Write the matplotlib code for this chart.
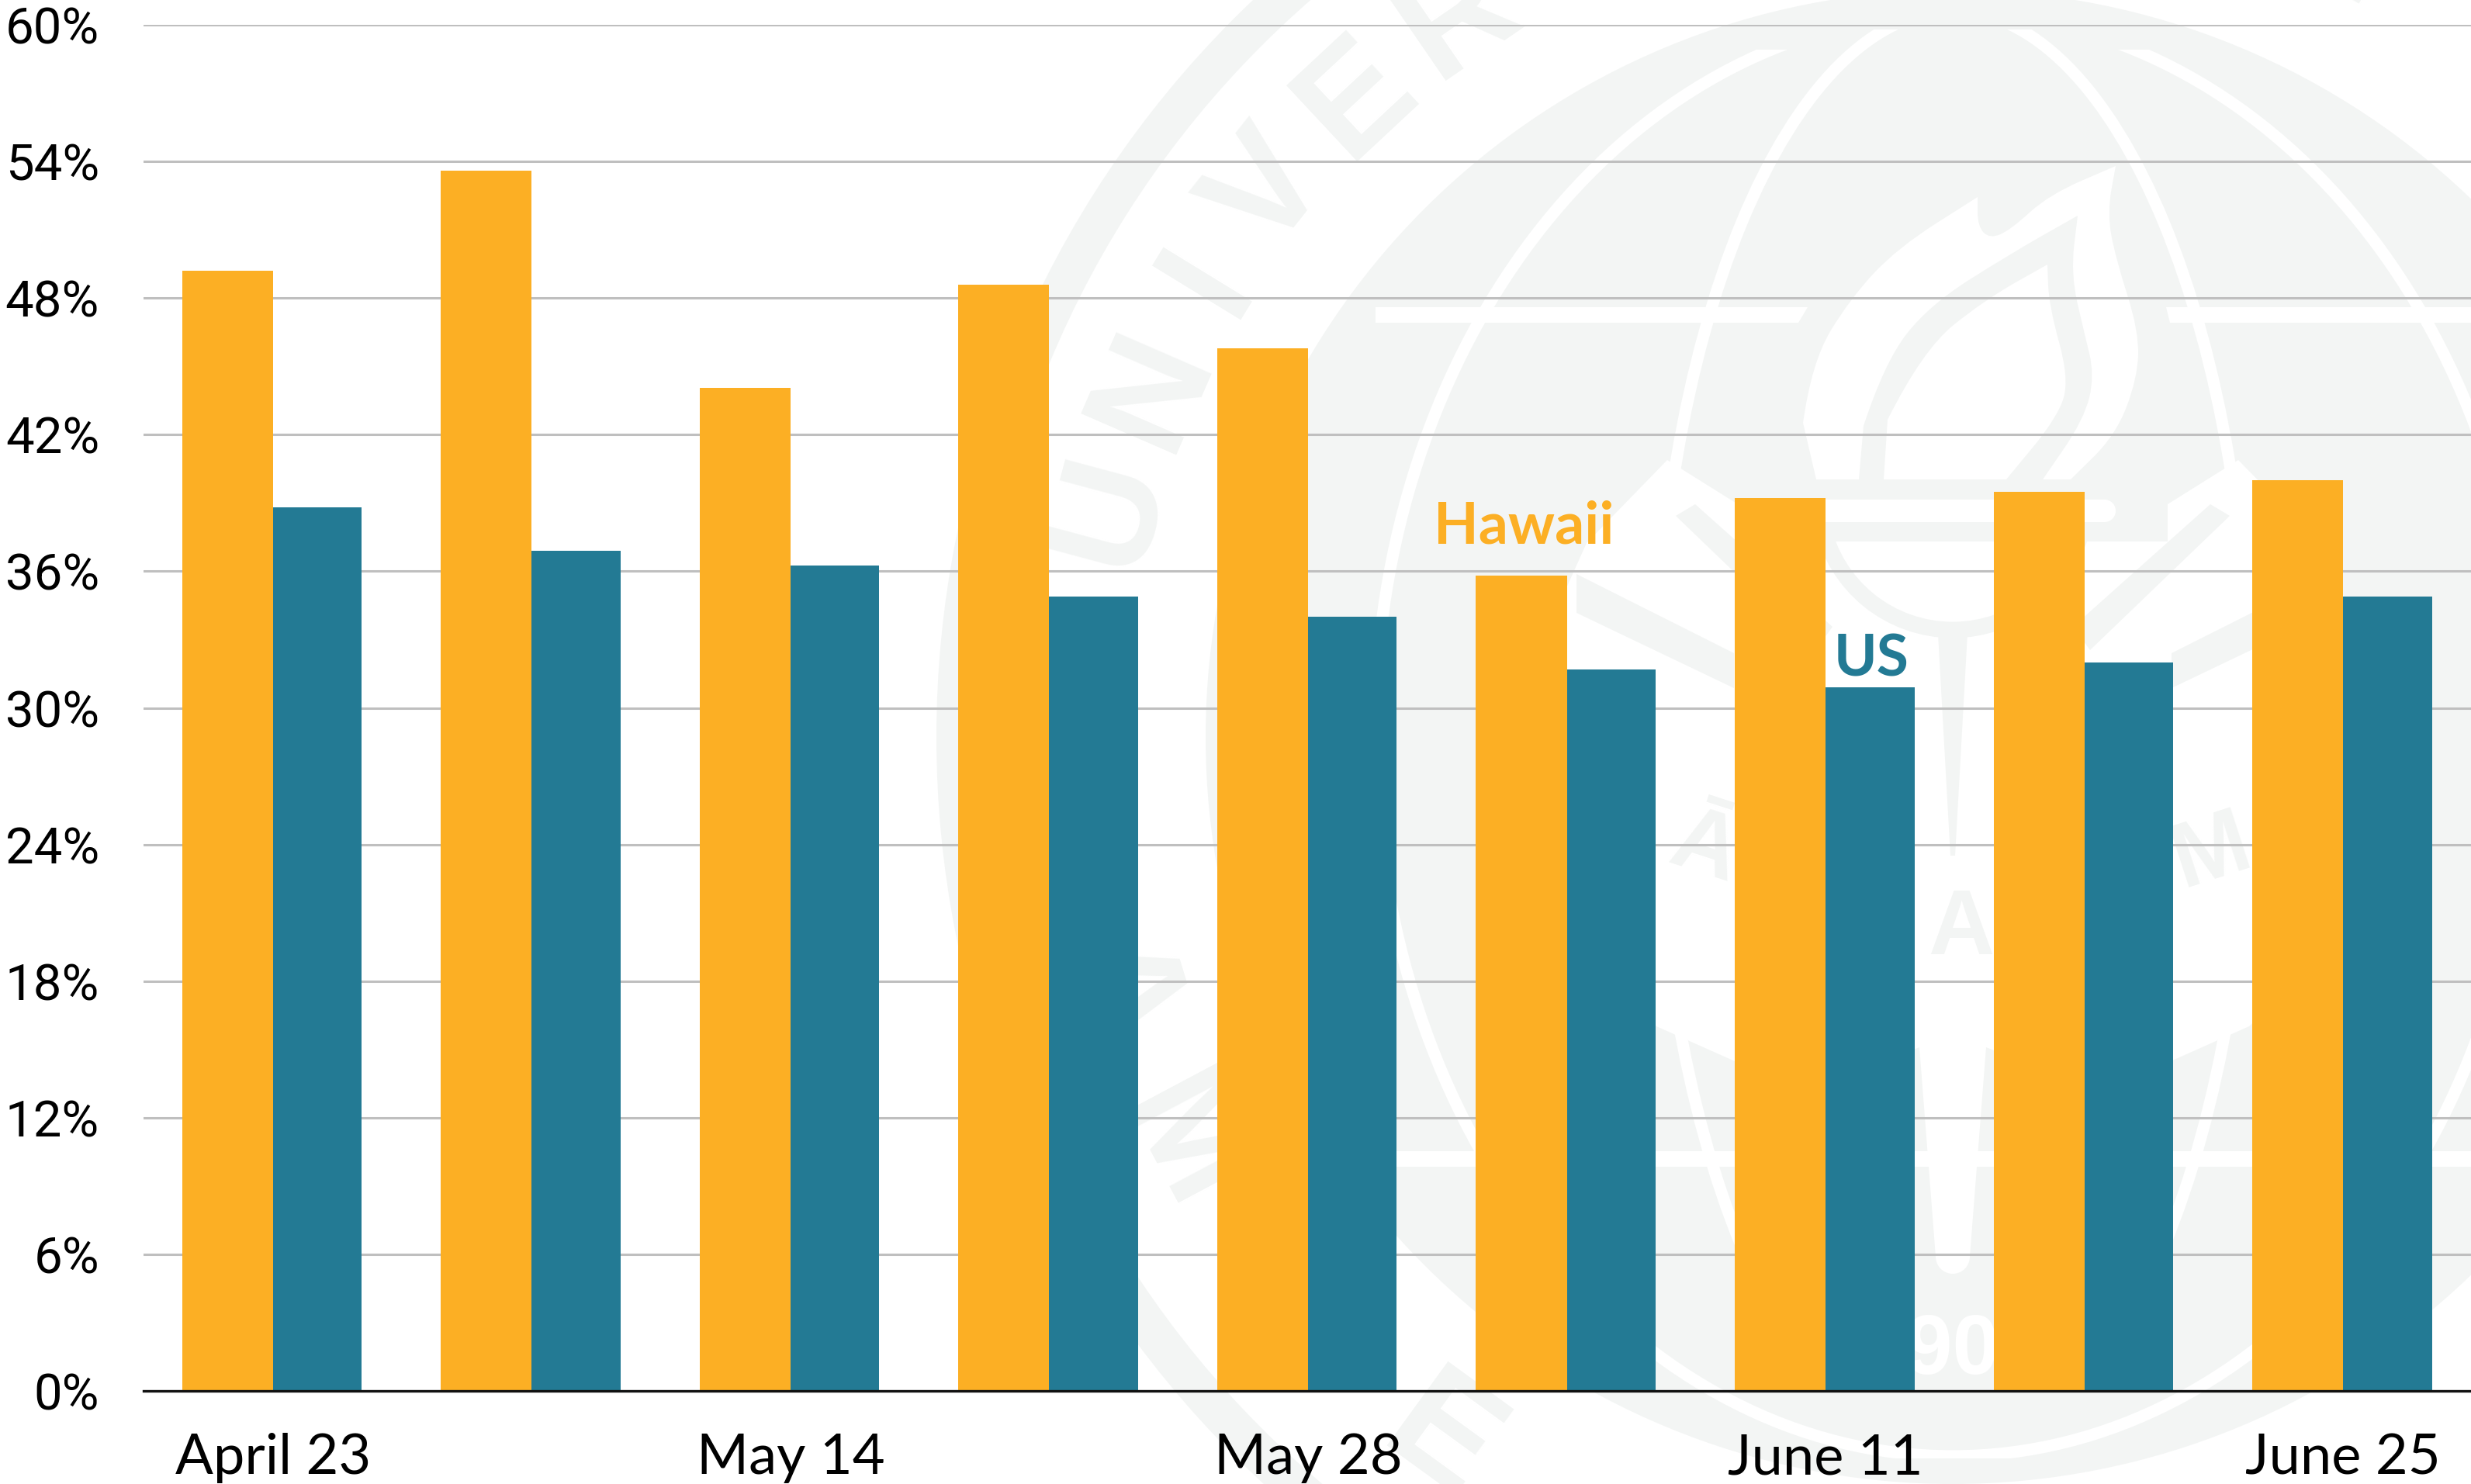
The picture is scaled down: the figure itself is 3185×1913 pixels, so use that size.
"""Hawaii vs US share chart, bars over a faint seal watermark."""
import numpy as np
import matplotlib
matplotlib.use('Agg')
import matplotlib.pyplot as plt
from matplotlib.patches import Circle, Wedge, Ellipse, PathPatch, Rectangle, Polygon, Arc
from matplotlib.path import Path

W, H = 3185, 1913

hawaii = [49.2, 53.6, 44.05, 48.6, 45.8, 35.8, 39.2, 39.5, 40.0]
us = [38.8, 36.9, 36.25, 34.9, 34.0, 31.7, 30.9, 32.0, 34.9]
week_labels = ['April 23', '', 'May 14', '', 'May 28', '', 'June 11', '', 'June 25']
y_ticks = [0, 6, 12, 18, 24, 30, 36, 42, 48, 54, 60]

ORANGE = '#fcaf24'
TEAL = '#237a94'
SEAL = '#f3f5f4'
FONT = 'Lato'

plt.rcParams['font.family'] = [FONT, 'DejaVu Sans']

fig = plt.figure(figsize=(W / 100, H / 100), dpi=100, facecolor='white')


def smooth_shape(pts):
    """Closed path through the midpoints of pts. A doubled point stays a sharp tip."""
    verts = [pts[0], pts[1]]
    codes = [Path.MOVETO, Path.LINETO]
    for i in range(2, len(pts) - 1):
        mid = ((pts[i][0] + pts[i + 1][0]) / 2, (pts[i][1] + pts[i + 1][1]) / 2)
        verts += [pts[i], mid]
        codes += [Path.CURVE3, Path.CURVE3]
    verts += [pts[-1], pts[0]]
    codes += [Path.LINETO, Path.CLOSEPOLY]
    return Path(verts, codes)


def draw_seal(fig):
    """Faint university seal behind the chart, in pixel coordinates."""
    bg = fig.add_axes([0, 0, 1, 1], zorder=0)
    bg.set_xlim(0, W)
    bg.set_ylim(H, 0)
    bg.axis('off')
    cx, cy = 2517, 950

    bg.add_patch(Wedge((cx, cy), 1310, 0, 360, width=50, color=SEAL, lw=0))
    bg.add_patch(Circle((cx, cy), 963, color=SEAL, lw=0))

    # ring lettering
    ring = [('U', 165), ('N', 156.5), ('I', 148.5), ('V', 141.5), ('E', 133),
            ('R', 124.5), ('S', 116), ('I', 108), ('T', 100), ('Y', 91),
            ('O', 72), ('F', 60), ('A', 197), ('M', 208), ('E', 234)]
    for ch, ang in ring:
        a = np.radians(ang)
        x, y = cx + 1125 * np.cos(a), cy - 1125 * np.sin(a)
        rot = ang - 90 if ang < 180 else ang + 90
        bg.text(x, y, ch, color=SEAL, fontsize=140, fontweight='bold',
                family='Liberation Sans', rotation=rot, rotation_mode='anchor',
                ha='center', va='center')

    # globe lines, open at the top
    for sx, sy, top, bottom in [(745, 930, 64, 1880), (385, 933, 38, 1640)]:
        line = Ellipse((cx, 947), 2 * sx, 2 * sy, fill=False, ec='white', lw=11)
        bg.add_patch(line)
        clip = Rectangle((0, top), W, bottom - top, transform=bg.transData)
        line.set_clip_path(clip)
    bg.add_patch(Polygon([(1773, 396), (2330, 396), (2318, 416), (1773, 416)], color='white', lw=0))
    bg.add_patch(Polygon([(2792, 396), (3240, 396), (3240, 416), (2797, 416)], color='white', lw=0))
    bg.add_patch(Rectangle((1790, 1484), 1450, 20, color='white', lw=0))

    # open middle of the seal, with the leaves and handle on top of it
    middle = [(2149, 593), (2240, 650), (2240, 698), (2794, 698), (2794, 650), (2885, 593),
              (2990, 700), (3035, 800), (3035, 1200), (2899, 1323), (2798, 1368),
              (2684, 1400), (2560, 1350), (2539, 1620), (2495, 1620), (2474, 1350),
              (2350, 1400), (2236, 1368), (2135, 1323), (2000, 1200), (2000, 800),
              (2045, 700)]
    bg.add_patch(Polygon(middle, color='white', lw=0))
    bg.add_patch(Circle((2517, 1620), 22, color='white', lw=0))

    for sign in (0, 1):
        flip = (lambda p: (5034 - p[0], p[1])) if sign else (lambda p: p)
        band_low = [(2032, 740), (2235, 842), (2235, 887), (2032, 790)]
        band_up = [(2160, 665), (2185, 650), (2362, 808), (2340, 838)]
        bg.add_patch(Polygon([flip(p) for p in band_low], color=SEAL, lw=0))
        bg.add_patch(Polygon([flip(p) for p in band_up], color=SEAL, lw=0))

    bg.add_patch(Arc((2517, 640), 344, 344, theta1=12, theta2=168, color=SEAL, lw=15))
    bg.add_patch(Polygon([(2498, 817), (2536, 817), (2520, 1103), (2514, 1103)], color=SEAL, lw=0))

    # torch bowl bar and flame
    bg.plot([2325, 2712], [658, 658], color='white', lw=21, solid_capstyle='round')
    flame_outer = [(2341, 618), (2324, 545), (2335, 467), (2384, 386), (2445, 320),
                   (2549, 254), (2549, 254), (2549, 292), (2565, 308), (2592, 296), (2641, 251),
                   (2727, 214), (2727, 214), (2716, 275), (2727, 333), (2757, 427), (2755, 488),
                   (2727, 561), (2669, 618)]
    flame_band = [(2396, 618), (2402, 549), (2429, 467), (2486, 394), (2588, 329),
                  (2678, 278), (2678, 278), (2669, 353), (2686, 427), (2700, 484), (2686, 541),
                  (2633, 618)]
    flame_core = [(2428, 618), (2433, 541), (2478, 451), (2559, 386), (2639, 341),
                  (2639, 341), (2641, 394), (2667, 488), (2653, 537), (2586, 618)]
    for pts, col in [(flame_outer, 'white'), (flame_band, SEAL), (flame_core, 'white')]:
        bg.add_patch(PathPatch(smooth_shape(pts), fc=col, ec='none'))

    for ch, x, y, rot in [('Ā', 2197, 1095, -18), ('A', 2528, 1200, 0), ('M', 2850, 1100, 18)]:
        bg.text(x, y, ch, color=SEAL, fontsize=85, fontweight='bold', rotation=rot,
                family='Liberation Sans', ha='center', va='center')
    bg.text(2517, 1743, '1907', color='white', fontsize=78, fontweight='bold',
            family='Liberation Sans', ha='center', va='center')


draw_seal(fig)

ax = fig.add_axes([185 / W, (H - 1793) / H, 3002 / W, 1761 / H], zorder=1)
ax.patch.set_alpha(0)

x = np.arange(len(hawaii))
ax.bar(x, hawaii, width=-0.351, align='edge', color=ORANGE, zorder=3)
ax.bar(x, us, width=0.343, align='edge', color=TEAL, zorder=3)

ax.set_xlim(-0.5, 8.5)
ax.set_ylim(0, 60)
ax.set_yticks(y_ticks)
# Roboto has the narrowest digits installed, the labels must fit left of the axis
ax.set_yticklabels([f'{v}%' for v in y_ticks], fontsize=47, color='black', family='Roboto')
ax.set_xticks(x)
ax.set_xticklabels(week_labels, fontsize=52, color='black')
ax.tick_params(axis='both', length=0)
ax.tick_params(axis='y', pad=41)
ax.tick_params(axis='x', pad=39)

ax.grid(True, axis='y', color='#bfbfbf', linewidth=2.2, zorder=1)
ax.set_axisbelow(True)
for side in ['top', 'right', 'left']:
    ax.spines[side].set_visible(False)
ax.spines['bottom'].set_color('#111111')
ax.spines['bottom'].set_linewidth(2.4)
ax.spines['bottom'].set_zorder(4)

ax.text(4.833, 37.24, 'Hawaii', color=ORANGE, fontsize=54, fontweight='bold',
        ha='center', va='baseline', zorder=5)
ax.text(6.176, 31.4, 'US', color=TEAL, fontsize=54, fontweight='bold',
        ha='center', va='baseline', zorder=5)

fig.savefig('out.png', dpi=100)
plt.close(fig)
